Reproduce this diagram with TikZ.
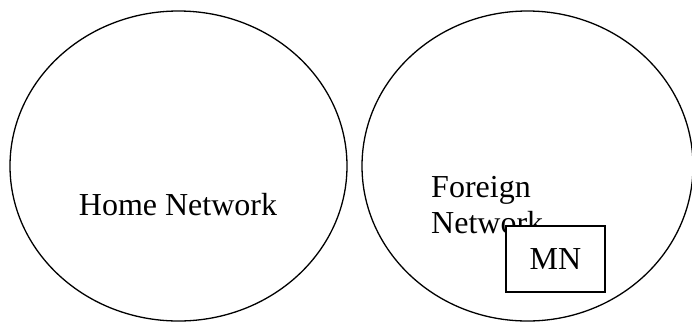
\documentclass[tikz,border=0pt]{standalone}
\usepackage{fontspec}
\setmainfont{Liberation Serif}
\usetikzlibrary{shapes.geometric}
\tikzset{
    net/.style={draw, ellipse, line width=1.3pt, inner sep=0pt, minimum height=310pt},
    lbl/.style={inner sep=0pt, font=\fontsize{32}{36}\selectfont},
    mnbox/.style={draw, fill=white, line width=1.4pt, minimum width=99pt, minimum height=66pt, inner sep=0pt, font=\fontsize{32}{36}\selectfont}
}
\begin{document}
\begin{tikzpicture}[x=1pt, y=-1pt]
    \useasboundingbox (0,0) rectangle (692,322);
    \clip (0,0) rectangle (692,322);
    \node[net, minimum width=337pt] (home) at (178.5,166) {};
    \node[net, minimum width=331pt] (foreign) at (527.5,166) {};
    
    % Labels
    \node[lbl, anchor=base] (homelbl) at (178,215) {Home Network};
    \node[lbl, anchor=base west] (forlbl) at (431,197) {Foreign};
    \node[lbl, anchor=base west] (netlbl) at (431,233) {Network};
    
    % Mobile node
    \node[mnbox] (mn) at (555.5,259) {MN};
\end{tikzpicture}
\end{document}
